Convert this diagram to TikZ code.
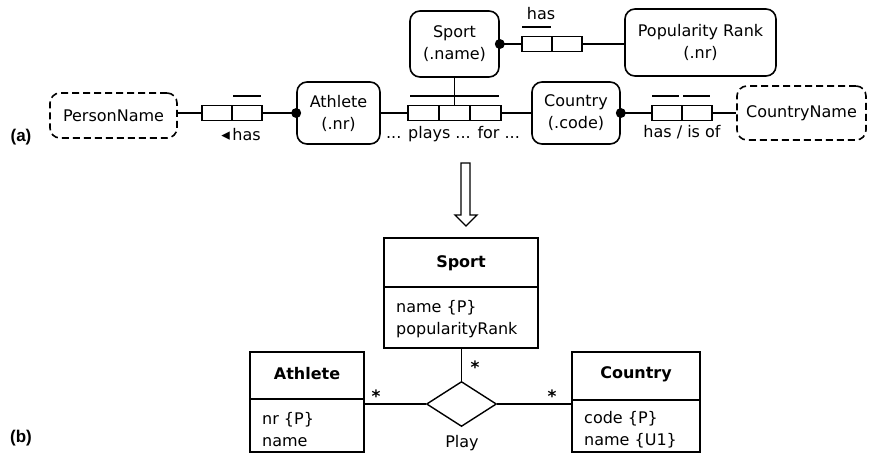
\documentclass[tikz,border=0pt]{standalone}
\usepackage{fontspec}
\setmainfont{DejaVu Sans}
\newfontfamily\lblfont{Liberation Sans}
\usetikzlibrary{shapes.geometric,calc}
\begin{document}
\begin{tikzpicture}[x=1pt,y=-1pt,
  every node/.style={font=\fontsize{16}{22}\selectfont, inner sep=0pt},
  obj/.style={draw, rounded corners=10pt, line width=1.6pt, align=center},
  valbox/.style={draw, rounded corners=10pt, line width=1.6pt, dash pattern=on 7pt off 4pt, align=center},
  cell/.style={draw, rectangle, line width=1.5pt, minimum width=30, minimum height=15},
  ubar/.style={line width=1.5pt},
  conn/.style={line width=1.5pt},
  dotmark/.style={fill=black},
  umlbox/.style={draw, rectangle, line width=1.6pt},
  umltitle/.style={font=\fontsize{16}{22}\selectfont\bfseries},
  attrs/.style={align=left, anchor=west},
  mult/.style={font=\fontsize{17}{22}\selectfont\bfseries},
  tag/.style={font=\lblfont\fontsize{17}{20}\selectfont\bfseries}
]
\useasboundingbox (0,0) rectangle (870,459);

% ---------- (a) ----------
\node[tag] (ta) at (21,137) {(a)};
\node[valbox, minimum width=127, minimum height=45] (pn) at (113.5,115.5) {PersonName};
\node[cell] (h1) at (217,113) {};
\node[cell] (h2) at (247,113) {};
\node[obj, minimum width=83, minimum height=62] (ath) at (338.5,113) {Athlete\\(.nr)};
\node[cell, minimum width=31] (p1) at (423.5,113) {};
\node[cell, minimum width=31] (p2) at (454.5,113) {};
\node[cell, minimum width=31] (p3) at (485.5,113) {};
\node[obj, minimum width=89, minimum height=66] (sp) at (454.5,44) {Sport\\(.name)};
\node[cell] (s1) at (537,44) {};
\node[cell] (s2) at (567,44) {};
\node[obj, minimum width=151, minimum height=67] (pop) at (700.5,42.5) {Popularity Rank\\(.nr)};
\node[obj, minimum width=88, minimum height=62] (cty) at (576,113) {Country\\(.code)};
\node[cell] (c1) at (667,113) {};
\node[cell] (c2) at (697,113) {};
\node[valbox, minimum width=129, minimum height=54] (cn) at (801.5,113) {CountryName};

% connectors
\draw[conn] (h1.west) -- (h1.west -| pn.east);
\draw[conn] (h2.east) -- (h2.east -| ath.west);
\fill[dotmark] (h2.east -| ath.west) circle[radius=5pt];
\draw[conn] (ath.east) -- (p1.west);
\draw[conn] (p3.east) -- (cty.west);
\draw[conn] (p2.north) -- (p2.north |- sp.south);
\draw[conn] (sp.east) -- (s1.west);
\fill[dotmark] (sp.east) circle[radius=5pt];
\draw[conn] (s2.east) -- (s2.east -| pop.west);
\draw[conn] (cty.east) -- (c1.west);
\fill[dotmark] (cty.east) circle[radius=5pt];
\draw[conn] (c2.east) -- (cn.west);

% uniqueness bars
\draw[ubar] ($(h2.north west)+(2,-9)$) -- ($(h2.north east)+(-2,-9)$);
\draw[ubar] ($(p1.north west)+(3,-9)$) -- ($(p3.north east)+(-3,-9)$);
\draw[ubar] ($(s1.north west)+(1,-9)$) -- ($(s1.north east)+(-2,-9)$);
\draw[ubar] ($(c1.north west)+(1,-9)$) -- ($(c1.north east)+(-4,-9)$);
\draw[ubar] ($(c2.north west)+(2,-9)$) -- ($(c2.north east)+(-3,-9)$);

% role labels
\node (lh) at (241,135) {{\fontsize{17}{17}\selectfont ◂}\,has};
\node (lp) at (453,134) {... plays ... for ...};
\node (ls) at (541,14) {has};
\node (lc) at (682,132) {has / is of};

% ---------- transformation arrow ----------
\draw[line width=1.3pt, fill=white, line join=miter]
  (461,163) -- (461,215) -- (455,215) -- (466,226) -- (477,215) -- (470,215) -- (470,163) -- cycle;

% ---------- (b) ----------
\node[tag] (tb) at (21,438) {(b)};

\node[umlbox, minimum width=154, minimum height=110] (spU) at (461,293) {};
\draw[line width=1.6pt] (spU.west |- 0,287) -- (spU.east |- 0,287);
\node[umltitle] (spT) at (461,263) {Sport};
\node[attrs] (spA) at (396,319) {name \{P\}\\popularityRank};

\node[umlbox, minimum width=114, minimum height=100] (athU) at (307,402) {};
\draw[line width=1.6pt] (athU.west |- 0,399) -- (athU.east |- 0,399);
\node[umltitle] (athT) at (307,374) {Athlete};
\node[attrs] (athA) at (262,430) {nr \{P\}\\name};

\node[umlbox, minimum width=128, minimum height=100] (ctyU) at (636,402) {};
\draw[line width=1.6pt] (ctyU.west |- 0,400) -- (ctyU.east |- 0,400);
\node[umltitle] (ctyT) at (636,374) {Country};
\node[attrs] (ctyA) at (584,430) {code \{P\}\\name \{U1\}};

\node[draw, diamond, line width=1.4pt, minimum width=70, minimum height=45] (play) at (461.5,404) {};
\node (playL) at (462,443) {Play};

\draw[conn] (play.north) -- (play.north |- spU.south);
\draw[conn] (play.west) -- (play.west -| athU.east);
\draw[conn] (play.east) -- (play.east -| ctyU.west);

\node[mult] (m1) at (376,396) {*};
\node[mult] (m2) at (552,396) {*};
\node[mult] (m3) at (475,367) {*};
\end{tikzpicture}
\end{document}
